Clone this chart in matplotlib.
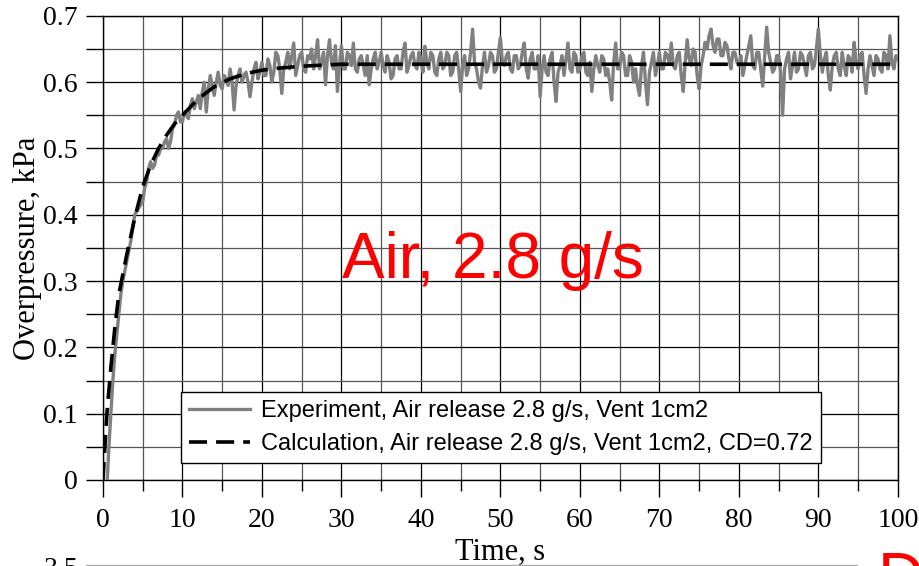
import numpy as np
import matplotlib
matplotlib.use("Agg")
import matplotlib.pyplot as plt
from matplotlib.lines import Line2D
from matplotlib.ticker import MultipleLocator, FuncFormatter

    # Experiment samples, every 0.25 s from 0 to 100 s
exp_time = np.arange(0, 100.01, 0.25)
exp_pressure = [
    0.0, -0.025, -0.01, 0.05, 0.10, 0.15, 0.19, 0.22, 0.25, 0.28, 0.30, 0.315, 0.33, 0.345, 0.36, 0.38, 0.40, 0.405, 0.41, 0.415,
    0.42, 0.44, 0.45, 0.47, 0.48, 0.47, 0.475, 0.49, 0.49, 0.50, 0.50, 0.51, 0.515, 0.50, 0.51, 0.53, 0.535, 0.55, 0.555, 0.54,
    0.54, 0.555, 0.55, 0.545, 0.565, 0.575, 0.56, 0.57, 0.58, 0.56, 0.585, 0.60, 0.555, 0.59, 0.61, 0.595, 0.58, 0.60, 0.615, 0.595,
    0.59, 0.61, 0.605, 0.595, 0.62, 0.60, 0.558, 0.595, 0.61, 0.62, 0.60, 0.61, 0.615, 0.60, 0.578, 0.60, 0.62, 0.63, 0.605, 0.615,
    0.63, 0.61, 0.61, 0.635, 0.625, 0.60, 0.615, 0.645, 0.64, 0.62, 0.583, 0.62, 0.63, 0.645, 0.62, 0.64, 0.659, 0.61, 0.625, 0.64,
    0.645, 0.62, 0.615, 0.64, 0.635, 0.65, 0.62, 0.64, 0.664, 0.62, 0.63, 0.645, 0.596, 0.64, 0.664, 0.63, 0.62, 0.655, 0.586, 0.625,
    0.655, 0.62, 0.62, 0.645, 0.64, 0.625, 0.659, 0.62, 0.615, 0.635, 0.64, 0.625, 0.61, 0.64, 0.596, 0.62, 0.635, 0.645, 0.62, 0.63,
    0.645, 0.625, 0.615, 0.64, 0.63, 0.605, 0.61, 0.635, 0.64, 0.62, 0.62, 0.645, 0.659, 0.615, 0.625, 0.64, 0.645, 0.625, 0.62, 0.645,
    0.635, 0.615, 0.654, 0.63, 0.62, 0.645, 0.64, 0.615, 0.61, 0.635, 0.645, 0.62, 0.625, 0.645, 0.64, 0.61, 0.615, 0.64, 0.645, 0.62,
    0.586, 0.625, 0.64, 0.61, 0.62, 0.645, 0.68, 0.63, 0.62, 0.60, 0.591, 0.625, 0.645, 0.615, 0.625, 0.645, 0.64, 0.615, 0.62, 0.645,
    0.667, 0.63, 0.625, 0.64, 0.645, 0.62, 0.615, 0.64, 0.64, 0.62, 0.625, 0.645, 0.659, 0.62, 0.606, 0.635, 0.645, 0.62, 0.62, 0.64,
    0.578, 0.62, 0.64, 0.615, 0.61, 0.635, 0.645, 0.60, 0.571, 0.615, 0.625, 0.64, 0.61, 0.635, 0.659, 0.62, 0.615, 0.645, 0.64, 0.615,
    0.62, 0.64, 0.645, 0.615, 0.61, 0.63, 0.586, 0.62, 0.64, 0.625, 0.615, 0.64, 0.635, 0.61, 0.62, 0.60, 0.573, 0.63, 0.659, 0.62,
    0.62, 0.645, 0.64, 0.61, 0.61, 0.64, 0.63, 0.60, 0.62, 0.595, 0.58, 0.625, 0.645, 0.60, 0.566, 0.615, 0.63, 0.645, 0.61, 0.625,
    0.645, 0.62, 0.62, 0.645, 0.64, 0.63, 0.659, 0.625, 0.62, 0.64, 0.645, 0.61, 0.586, 0.63, 0.664, 0.635, 0.625, 0.65, 0.645, 0.61,
    0.59, 0.625, 0.64, 0.66, 0.65, 0.67, 0.68, 0.655, 0.645, 0.665, 0.665, 0.64, 0.64, 0.66, 0.655, 0.635, 0.62, 0.645, 0.645, 0.63,
    0.625, 0.64, 0.61, 0.625, 0.64, 0.655, 0.67, 0.625, 0.62, 0.645, 0.645, 0.62, 0.594, 0.64, 0.683, 0.645, 0.63, 0.615, 0.62, 0.64,
    0.64, 0.615, 0.55, 0.62, 0.635, 0.645, 0.605, 0.625, 0.645, 0.615, 0.62, 0.645, 0.64, 0.625, 0.61, 0.64, 0.645, 0.62, 0.625, 0.65,
    0.68, 0.64, 0.615, 0.635, 0.645, 0.61, 0.588, 0.625, 0.64, 0.645, 0.62, 0.61, 0.645, 0.625, 0.61, 0.64, 0.635, 0.615, 0.66, 0.63,
    0.62, 0.64, 0.645, 0.61, 0.583, 0.62, 0.64, 0.625, 0.61, 0.64, 0.635, 0.62, 0.615, 0.645, 0.64, 0.62, 0.67, 0.63, 0.62, 0.64,
    0.635,
]

    # Calculated curve
calc_time = [0, 0.5, 1, 1.5, 2, 2.5, 3, 4, 5, 6, 7, 8, 9, 10, 12, 14, 16, 18, 20,
             22, 25, 28, 30, 40, 50, 60, 70, 80, 90, 100]
calc_pressure = [0.0, 0.10, 0.17, 0.23, 0.28, 0.31, 0.34, 0.395, 0.442, 0.475,
                 0.50, 0.52, 0.537, 0.55, 0.575, 0.593, 0.605, 0.613, 0.618,
                 0.621, 0.624, 0.626, 0.627, 0.627, 0.627, 0.627, 0.627, 0.627,
                 0.627, 0.627]

label_exp = "Experiment, Air release 2.8 g/s, Vent 1cm2"
label_calc = "Calculation, Air release 2.8 g/s, Vent 1cm2, CD=0.72"

serif = "Liberation Serif"
sans = "Liberation Sans"

fig = plt.figure(figsize=(9.19, 5.66), dpi=100)
ax = fig.add_axes([0.112, 0.152, 0.865, 0.820])

ax.plot(exp_time, exp_pressure, color="#808080", lw=2.4, label=label_exp, zorder=3)
ax.plot(calc_time, calc_pressure, color="black", lw=2.6, dashes=(5, 2.5),
        label=label_calc, zorder=4)

ax.set_xlim(0, 100)
ax.set_ylim(0, 0.7)
ax.xaxis.set_major_locator(MultipleLocator(10))
ax.xaxis.set_minor_locator(MultipleLocator(5))
ax.yaxis.set_major_locator(MultipleLocator(0.1))
ax.yaxis.set_minor_locator(MultipleLocator(0.05))
ax.yaxis.set_major_formatter(FuncFormatter(lambda v, p: "0" if abs(v) < 1e-9 else f"{v:.1f}"))

ax.grid(which="major", color="black", lw=0.9)
ax.grid(which="minor", color="#555555", lw=0.9)
ax.set_axisbelow(True)

ax.tick_params(which="major", direction="out", length=12, width=1, labelsize=20)
ax.tick_params(axis="x", which="major", pad=8)
ax.tick_params(axis="y", which="major", pad=6)
ax.tick_params(axis="x", which="minor", direction="out", length=8, width=1)
ax.tick_params(axis="y", which="minor", direction="out", length=12, width=1)
for lab in ax.get_xticklabels() + ax.get_yticklabels():
    lab.set_fontfamily(serif)
for s in ax.spines.values():
    s.set_linewidth(1)

ax.set_xlabel("Time, s", fontfamily=serif, fontsize=22, labelpad=4)
ax.set_ylabel("Overpressure, kPa", fontfamily=serif, fontsize=22, labelpad=1)

ax.text(49, 0.33, "Air, 2.8 g/s", color="red", fontsize=46, fontfamily=sans,
        ha="center", va="center")

leg = ax.legend(loc="lower left", bbox_to_anchor=(0.098, 0.036), fancybox=False,
                framealpha=1, edgecolor="black", prop={"family": sans, "size": 17},
                handlelength=2.6, handletextpad=0.45, borderpad=0.35, labelspacing=0.45,
                borderaxespad=0)
leg.get_frame().set_linewidth(1)

    # Edge of the next chart, cut off at the bottom of the picture
fig.add_artist(Line2D([86 / 919, 857 / 919], [1 / 566, 1 / 566], color="#aaaaaa", lw=1))
fig.text(78 / 919, -0.018, "3.5", fontfamily=serif, fontsize=20, ha="right", va="baseline")
fig.text(878 / 919, -0.057, "D", color="red", fontfamily=sans, fontsize=46, ha="left", va="baseline")

fig.savefig("out.png", dpi=100)
